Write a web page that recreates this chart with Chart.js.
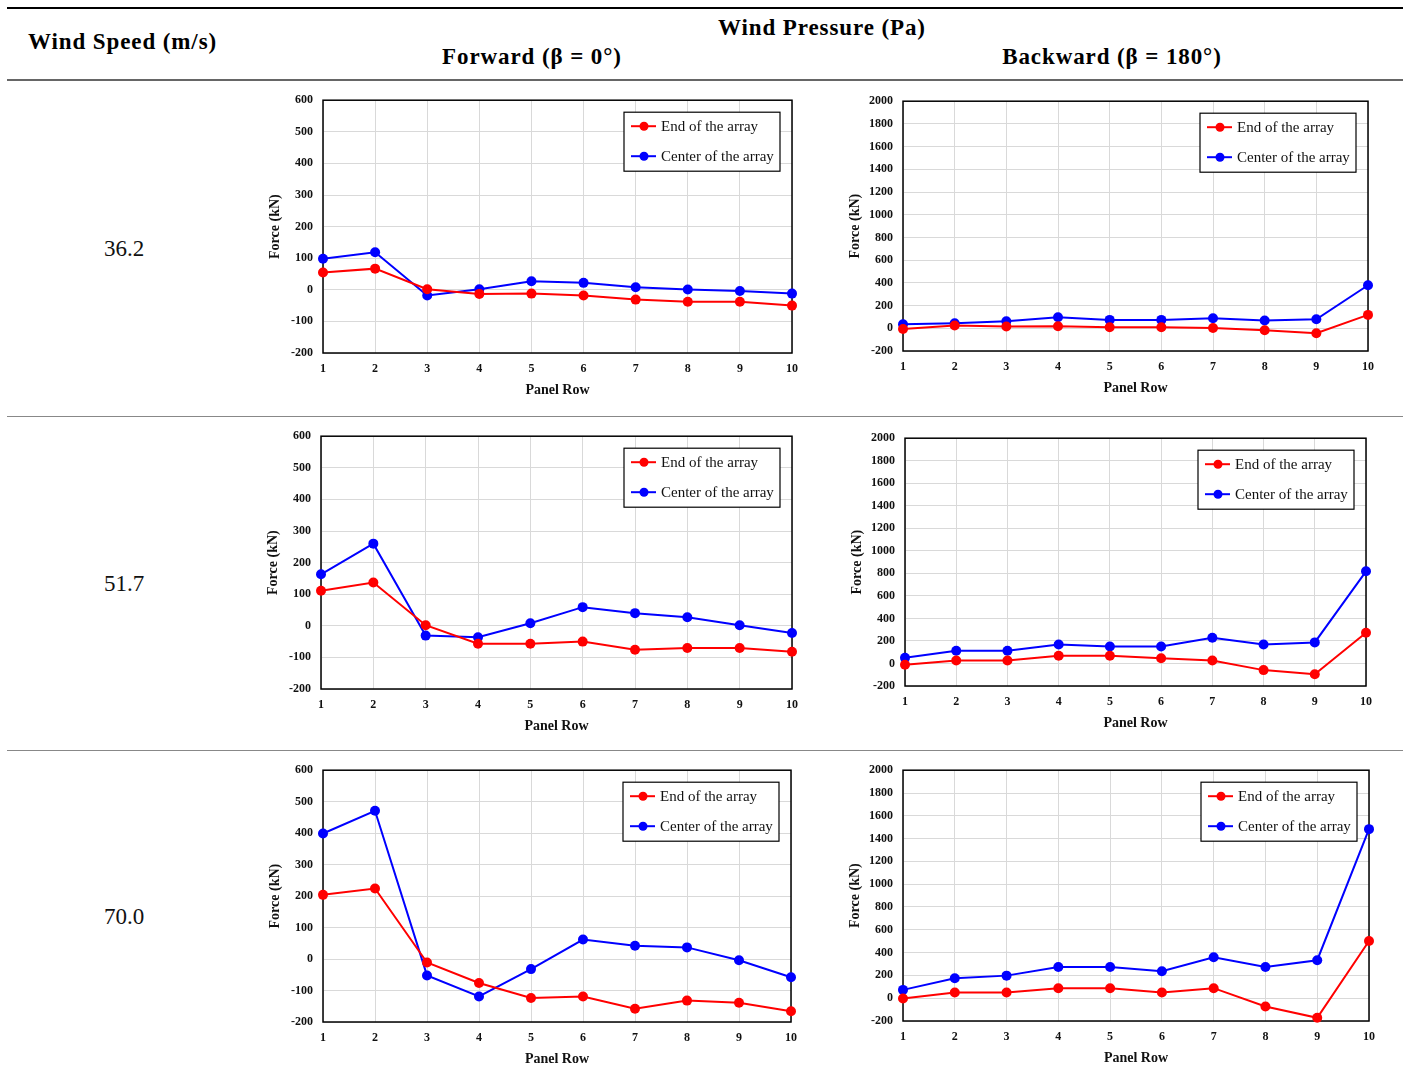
<!DOCTYPE html>
<html>
<head>
<meta charset="utf-8">
<script src="https://cdn.jsdelivr.net/npm/chart.js@4/dist/chart.umd.min.js"></script>
<style>
body { margin:0; width:1405px; height:1080px; background:#fff; position:relative; overflow:hidden; font-family:"Liberation Serif", serif; }
.rule { position:absolute; left:7px; width:1396px; }
.hd { position:absolute; font-weight:bold; font-size:23px; letter-spacing:0.9px; color:#000; white-space:nowrap; }
.c { transform:translateX(-50%); }
.speed { position:absolute; font-size:23px; color:#111; transform:translateX(-50%); }
canvas { position:absolute; }
</style>
</head>
<body>
<div class="rule" style="top:7px;height:2px;background:#000"></div>
<div class="rule" style="top:79px;height:2px;background:#666"></div>
<div class="rule" style="top:416px;height:1px;background:#888"></div>
<div class="rule" style="top:750px;height:1px;background:#888"></div>

<div class="hd" style="left:28px;top:29px">Wind Speed (m/s)</div>
<div class="hd c" style="left:822px;top:15px">Wind Pressure (Pa)</div>
<div class="hd c" style="left:532px;top:44px">Forward (β = 0°)</div>
<div class="hd c" style="left:1112px;top:44px">Backward (β = 180°)</div>

<div class="speed" style="left:124px;top:236px">36.2</div>
<div class="speed" style="left:124px;top:571px">51.7</div>
<div class="speed" style="left:124px;top:904px">70.0</div>

<canvas id="c1"></canvas>
<canvas id="c2"></canvas>
<canvas id="c3"></canvas>
<canvas id="c4"></canvas>
<canvas id="c5"></canvas>
<canvas id="c6"></canvas>

<script>
const rows = ['1','2','3','4','5','6','7','8','9','10'];
const seriesNames = ['End of the array', 'Center of the array'];

const endF36 = [55, 67, 2, -13, -12, -18, -31, -38, -38, -50];
const centerF36 = [98, 119, -18, 2, 27, 22, 8, 1, -4, -12];
const endB36 = [-6, 24, 15, 18, 9, 9, 3, -18, -44, 118];
const centerB36 = [35, 44, 62, 97, 74, 74, 88, 68, 79, 379];

const endF52 = [111, 137, 2, -57, -57, -50, -76, -70, -70, -82];
const centerF52 = [163, 260, -31, -36, 8, 59, 40, 27, 2, -23];
const endB52 = [-12, 27, 27, 68, 68, 47, 27, -59, -95, 273];
const centerB52 = [50, 113, 113, 169, 151, 151, 228, 169, 187, 818];

const endF70 = [204, 224, -11, -76, -124, -119, -158, -132, -139, -166];
const centerF70 = [399, 471, -52, -119, -32, 62, 42, 37, -4, -58];
const endB70 = [-3, 50, 50, 88, 88, 50, 88, -73, -172, 502];
const centerB70 = [73, 175, 198, 274, 274, 236, 359, 274, 333, 1483];

// [min, max, step]
const forwardTicks = [-200, 600, 100];
const backwardTicks = [-200, 2000, 200];

const RED = '#ff0000';
const BLUE = '#0000ff';

const frameLegend = {
  id: 'frameLegend',
  beforeDatasetsDraw(chart) {
    const {ctx, chartArea: a} = chart;
    ctx.save();
    ctx.strokeStyle = '#000';
    ctx.lineWidth = 1.5;
    ctx.strokeRect(a.left, a.top, a.right - a.left, a.bottom - a.top);
    ctx.restore();
  },
  afterDraw(chart) {
    const {ctx, chartArea: a} = chart;
    const w = 156, h = 59;
    const x = a.right - 12 - w, y = a.top + 12;
    ctx.save();
    ctx.fillStyle = '#fff';
    ctx.fillRect(x, y, w, h);
    ctx.strokeStyle = '#000';
    ctx.lineWidth = 1.2;
    ctx.strokeRect(x, y, w, h);
    chart.data.datasets.forEach((ds, i) => {
      const ly = y + 14 + i * 30;
      ctx.strokeStyle = ds.borderColor;
      ctx.lineWidth = 2;
      ctx.beginPath();
      ctx.moveTo(x + 7, ly);
      ctx.lineTo(x + 32, ly);
      ctx.stroke();
      ctx.fillStyle = ds.backgroundColor;
      ctx.beginPath();
      ctx.arc(x + 20, ly, 4.5, 0, Math.PI * 2);
      ctx.fill();
      ctx.fillStyle = '#111';
      ctx.font = '15px "Liberation Serif"';
      ctx.textBaseline = 'middle';
      ctx.fillText(ds.label, x + 37, ly + 1);
    });
    ctx.restore();
  }
};

function makeChart(id, L, T, R, B, endVals, centerVals, ticks) {
  const cv = document.getElementById(id);
  const topGap = 17;
  const left = L - 58, top = T - topGap;
  const width = R - L + 58 + 14, height = B - T + topGap + 52;
  cv.width = width; cv.height = height;
  cv.style.left = left + 'px'; cv.style.top = top + 'px';
  cv.style.width = width + 'px'; cv.style.height = height + 'px';

  const line = (label, data, color) => ({
    label: label,
    data: data,
    borderColor: color,
    backgroundColor: color,
    borderWidth: 2,
    pointRadius: 5,
    pointBorderWidth: 0,
    tension: 0,
    clip: false
  });

  new Chart(cv, {
    type: 'line',
    data: {
      labels: rows,
      datasets: [
        line(seriesNames[0], endVals, RED),
        line(seriesNames[1], centerVals, BLUE)
      ]
    },
    options: {
      responsive: false,
      animation: false,
      events: [],
      layout: { padding: { top: 0, right: 14, left: 0, bottom: 0 } },
      plugins: { legend: { display: false }, tooltip: { enabled: false } },
      scales: {
        x: {
          offset: false,
          grid: { color: '#d9d9d9', drawTicks: false },
          border: { display: false },
          ticks: { padding: 9, color: '#111', font: { family: 'Liberation Serif', size: 12, weight: 'bold' }, autoSkip: false, maxRotation: 0 },
          title: { display: true, text: 'Panel Row', color: '#111', padding: { top: 6, bottom: 6 }, font: { family: 'Liberation Serif', size: 14, weight: 'bold' } },
          afterFit(scale) { scale.height = 52; }
        },
        y: {
          min: ticks[0], max: ticks[1],
          grid: { color: '#d9d9d9', drawTicks: false },
          border: { display: false },
          ticks: { stepSize: ticks[2], padding: 10, color: '#111', callback: v => String(v), font: { family: 'Liberation Serif', size: 12, weight: 'bold' } },
          title: { display: true, text: 'Force (kN)', color: '#111', padding: 2, font: { family: 'Liberation Serif', size: 14, weight: 'bold' } },
          afterFit(scale) { scale.width = 58; }
        }
      }
    },
    plugins: [frameLegend]
  });
}

makeChart('c1', 323, 100, 793, 353, endF36, centerF36, forwardTicks);
makeChart('c2', 903, 101, 1369, 351, endB36, centerB36, backwardTicks);
makeChart('c3', 321, 436, 793, 689, endF52, centerF52, forwardTicks);
makeChart('c4', 905, 438, 1367, 686, endB52, centerB52, backwardTicks);
makeChart('c5', 323, 770, 792, 1022, endF70, centerF70, forwardTicks);
makeChart('c6', 903, 770, 1370, 1021, endB70, centerB70, backwardTicks);
</script>
</body>
</html>
